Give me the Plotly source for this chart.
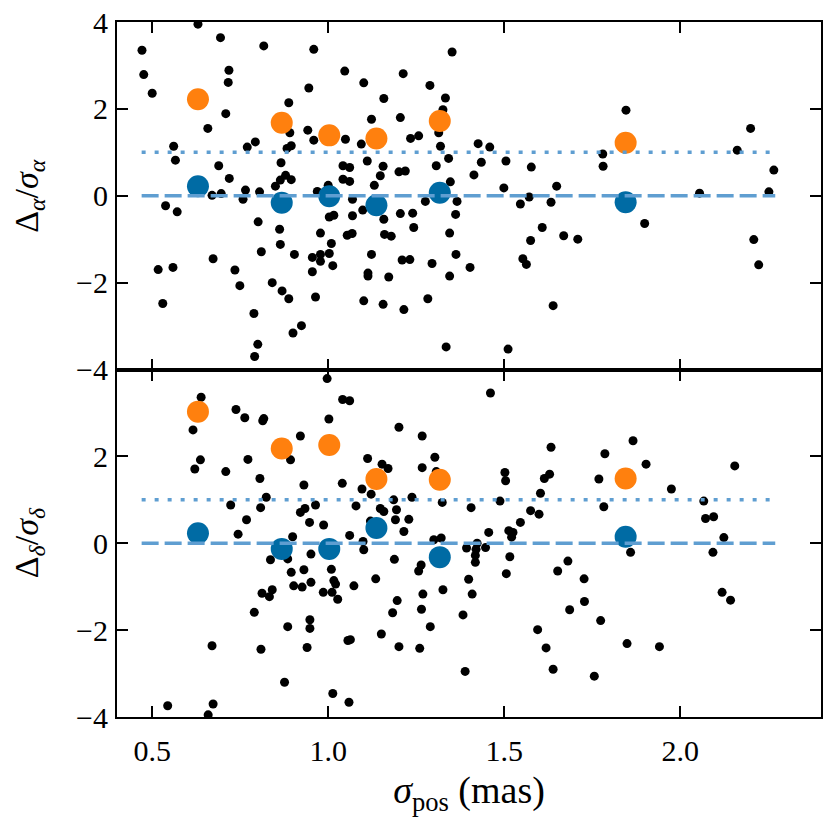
import plotly.graph_objects as go
from plotly.subplots import make_subplots

# black points, upper panel (Delta_alpha / sigma_alpha)
top_x = [0.471, 0.476, 0.500, 0.630, 0.694, 0.817, 0.959, 1.352, 0.718, 0.716,
         0.709, 0.658, 0.561, 0.566, 0.689, 0.719, 0.770, 0.793, 0.888, 0.945,
         0.891, 0.895, 0.883, 0.942, 0.959, 0.866, 0.879, 0.864, 0.895, 0.850,
         0.765, 0.805, 1.047, 1.101, 1.158, 1.213, 1.289, 1.333, 1.326, 1.123,
         1.205, 1.049, 1.094, 1.234, 1.257, 1.314, 1.319, 1.342, 1.111, 1.042,
         1.061, 1.156, 1.148, 1.042, 1.061, 1.131, 1.201, 1.219, 1.307, 1.347,
         1.000, 0.670, 0.696, 0.758, 0.538, 0.571, 0.801, 0.862, 0.864, 0.810,
         0.904, 0.673, 0.517, 0.559, 0.735, 0.749, 0.841, 0.869, 0.888, 0.530,
         0.789, 0.800, 0.791, 0.900, 0.924, 0.964, 0.955, 0.955, 0.978, 0.978,
         1.003, 1.013, 1.009, 0.978, 1.003, 1.016, 0.969, 1.054, 1.068, 1.069,
         1.069, 1.098, 1.158, 1.160, 1.179, 1.123, 1.113, 1.113, 1.172, 1.101,
         1.156, 1.215, 1.210, 1.232, 1.205, 1.240, 1.243, 1.276, 1.295, 1.283,
         1.335, 1.345, 1.345, 1.362, 1.363, 1.366, 1.426, 1.459, 1.435, 1.414,
         1.505, 1.577, 1.499, 1.546, 1.571, 1.633, 1.649, 1.608, 1.575, 1.669,
         1.709, 1.553, 1.563, 1.403, 1.639, 1.511, 1.780, 1.781, 1.846, 1.899,
         2.055, 2.162, 2.200, 2.266, 2.252, 2.209, 2.223]
top_y = [3.35, 2.79, 2.36, 3.95, 3.64, 3.45, 3.37, 3.31, 2.89, 2.61,
         1.89, 1.55, 1.14, 0.82, 0.69, 0.40, 1.12, 1.24, 2.14, 2.48,
         1.45, 1.15, 1.09, 1.51, 1.28, 0.76, 0.47, 0.36, 0.37, 0.22,
         0.13, 0.09, 2.87, 2.60, 2.24, 2.81, 2.54, 2.25, 1.98, 1.76,
         1.80, 1.30, 1.19, 1.32, 1.38, 1.45, 1.14, 0.86, 0.80, 0.69,
         0.65, 0.68, 0.46, 0.38, 0.33, 0.24, 0.55, 0.57, 0.69, 0.32,
         0.24, 0.01, 0.05, -0.08, -0.23, -0.37, -0.60, -0.77, -1.12, -1.29,
         -1.35, -1.45, -1.70, -1.65, -1.71, -2.07, -2.00, -2.19, -2.37, -2.48,
         -2.71, -3.42, -3.70, -3.16, -2.99, -2.33, -1.75, -1.42, -1.51, -1.35,
         -1.33, -1.61, -1.10, -0.86, -0.49, -0.45, 0.10, -0.91, -0.87, -0.46,
         -0.08, -0.33, -0.54, -0.89, -0.93, -1.35, -1.78, -1.85, -1.87, -2.42,
         -2.50, -2.62, -1.48, -1.47, -0.41, -0.40, -0.73, -0.13, -1.56, -2.37,
         -3.48, -1.85, -0.86, -0.43, -1.35, -0.13, 1.20, 1.12, 0.77, 0.48,
         0.80, 0.66, 0.18, -0.19, -0.03, -0.15, 0.22, -0.73, -1.03, -0.92,
         -1.00, -1.45, -1.58, -1.65, -2.53, -3.53, 0.96, 0.68, 1.97, -0.64,
         0.06, 1.05, 1.55, 0.59, 0.09, -1.01, -1.59]

# black points, lower panel (Delta_delta / sigma_delta)
bot_x = [0.639, 0.616, 0.637, 0.621, 0.738, 0.763, 0.817, 0.814, 0.997, 1.041,
         1.061, 1.002, 0.921, 0.893, 0.772, 0.709, 0.806, 0.824, 0.808, 0.723,
         0.768, 0.744, 0.899, 0.931, 0.934, 0.921, 0.964, 0.947, 0.987, 1.040,
         1.079, 1.096, 1.122, 1.112, 1.153, 1.170, 1.201, 1.267, 1.303, 1.267,
         1.307, 1.186, 1.238, 1.148, 1.158, 1.194, 1.191, 1.229, 1.215, 1.324,
         1.061, 1.300, 1.321, 1.120, 1.099, 1.101, 0.836, 0.885, 0.951, 0.895,
         0.931, 0.902, 0.926, 0.951, 1.009, 1.016, 1.021, 0.986, 1.011, 1.027,
         1.073, 1.135, 1.188, 1.257, 1.264, 1.269, 1.326, 1.196, 1.183, 1.265,
         1.290, 1.151, 1.201, 1.260, 0.812, 0.841, 0.833, 0.790, 0.885, 0.948,
         0.948, 0.940, 1.056, 1.063, 0.809, 0.670, 0.876, 1.013, 1.059, 0.544,
         0.673, 0.659, 1.461, 1.633, 1.502, 1.504, 1.614, 1.629, 1.603, 1.488,
         1.406, 1.575, 1.599, 1.546, 1.513, 1.525, 1.521, 1.456, 1.423, 1.393,
         1.447, 1.420, 1.418, 1.418, 1.516, 1.506, 1.681, 1.652, 1.727, 1.728,
         1.686, 1.399, 1.409, 1.383, 1.774, 1.595, 1.619, 1.849, 1.941, 1.639,
         1.756, 1.389, 1.786, 1.866, 1.903, 1.769, 1.975, 1.783, 2.155, 2.067,
         2.072, 2.095, 2.124, 2.093, 1.859, 2.119, 2.143]
bot_y = [3.36, 2.61, 1.92, 1.71, 3.08, 2.89, 2.87, 2.82, 3.79, 3.31,
         3.28, 2.86, 2.47, 1.92, 1.93, 1.65, 1.49, 1.06, 0.82, 0.88,
         0.54, 0.21, 0.15, 1.34, 0.80, 0.71, 0.88, 0.48, 0.42, 1.38,
         0.86, 1.25, 1.13, 1.95, 1.82, 1.72, 2.67, 2.47, 1.98, 1.74,
         1.65, 1.00, 1.06, 0.80, 0.73, 0.77, 0.54, 0.55, 0.27, 0.94,
         0.18, 0.08, 0.12, 0.51, 0.04, -0.15, -0.38, -0.36, -0.25, -0.67,
         -0.61, -0.98, -1.01, -0.90, -0.60, -0.86, -0.94, -1.13, -1.13, -1.29,
         -0.98, -0.82, -0.37, -0.64, -0.50, -1.17, -1.07, -1.32, -1.60, -1.52,
         -1.92, -2.09, -2.38, -2.42, -1.15, -1.07, -1.23, -1.59, -1.92, -1.76,
         -1.96, -2.40, -2.24, -2.22, -2.44, -2.36, -3.20, -3.46, -3.66, -3.74,
         -3.70, -3.95, 3.46, 2.21, 1.63, 1.44, 1.49, 1.59, 1.15, 0.97,
         0.82, 0.75, 0.67, 0.48, 0.29, 0.25, 0.14, 0.25, 0.00, -0.11,
         -0.10, -0.14, -0.28, -0.44, -0.31, -0.70, -0.41, -0.64, -0.82, -1.34,
         -1.53, -0.83, -1.17, -1.65, -1.78, -1.99, -2.41, -2.31, -2.38, -2.90,
         -3.06, -2.95, 2.06, 2.36, 1.82, 1.48, 1.25, 0.84, 1.78, 0.97,
         0.57, 0.61, 0.13, -0.21, -0.21, -1.13, -1.31]

# binned statistics
bin_x = [0.630, 0.868, 1.003, 1.137, 1.317, 1.845]
top_orange = [2.22, 1.68, 1.39, 1.32, 1.72, 1.22]
top_blue = [0.22, -0.16, -0.01, -0.22, 0.07, -0.15]
bot_orange = [3.03, 2.18, 2.26, 1.48, 1.46, 1.49]
bot_blue = [0.23, -0.13, -0.13, 0.35, -0.32, 0.15]

line_x = [0.47, 2.27]

top_ticks = [-4, -2, 0, 2, 4]
bot_ticks = [-4, -2, 0, 2]

serif = "Liberation Serif, Times New Roman, serif"

fig = make_subplots(rows=2, cols=1, shared_xaxes=True, vertical_spacing=0)

panels = [(top_x, top_y, top_orange, top_blue), (bot_x, bot_y, bot_orange, bot_blue)]
for i, (px_, py_, orng, blu) in enumerate(panels, start=1):
    fig.add_trace(go.Scatter(x=px_, y=py_, mode="markers",
                             marker=dict(color="black", size=9)), row=i, col=1)
    fig.add_trace(go.Scatter(x=bin_x, y=orng, mode="markers",
                             marker=dict(color="#FF800E", size=22)), row=i, col=1)
    fig.add_trace(go.Scatter(x=bin_x, y=blu, mode="markers",
                             marker=dict(color="#006BA4", size=22)), row=i, col=1)
    fig.add_trace(go.Scatter(x=line_x, y=[1, 1], mode="lines",
                             line=dict(color="#5F9ED1", width=3.5, dash="4px,9px")), row=i, col=1)
    fig.add_trace(go.Scatter(x=line_x, y=[0, 0], mode="lines",
                             line=dict(color="#5F9ED1", width=3.5, dash="17px,6px")), row=i, col=1)

axis_style = dict(showline=True, linecolor="black", linewidth=2, mirror="allticks",
                  ticks="inside", ticklen=11, tickwidth=1.8, tickcolor="black",
                  showgrid=False, zeroline=False, ticklabeloverflow="allow",
                  automargin=False,
                  tickfont=dict(family=serif, size=30, color="black"))

fig.update_xaxes(range=[0.40, 2.40], tickvals=[0.5, 1.0, 1.5, 2.0],
                 ticktext=["0.5", "1.0", "1.5", "2.0"], ticklabelstandoff=6, **axis_style)
fig.update_yaxes(ticklabelstandoff=1, **axis_style)

fig.update_xaxes(title_text="<i>σ</i><sub>pos</sub> (mas)", title_standoff=10,
                 title_font=dict(family=serif, size=38, color="black"), row=2, col=1)

fig.update_layout(
    yaxis=dict(range=[-4, 4], tickmode="array", tickvals=top_ticks),
    yaxis2=dict(range=[-4, 4], tickmode="array", tickvals=bot_ticks),
)

# y titles as rotated paper annotations, so they sit where the original has them
title_font = dict(family=serif, size=34, color="black")
y_titles = [("Δ<sub><i>α</i></sub>/<i>σ</i><sub><i>α</i></sub>", 0.75),
            ("Δ<sub><i>δ</i></sub>/<i>σ</i><sub><i>δ</i></sub>", 0.25)]
for text, yc in y_titles:
    fig.add_annotation(text=text, xref="paper", yref="paper", x=-0.125, y=yc,
                       xanchor="center", yanchor="middle", textangle=-90,
                       showarrow=False, font=title_font)

fig.update_layout(width=830, height=830, showlegend=False,
                  plot_bgcolor="white", paper_bgcolor="white",
                  margin=dict(l=117, r=9, t=22, b=113))

# drop the default 8px page margin so the figure fills the window; hide the toolbar
fig.write_html("out.html", post_script="document.body.style.margin = '0px';",
               config={"displayModeBar": False})
